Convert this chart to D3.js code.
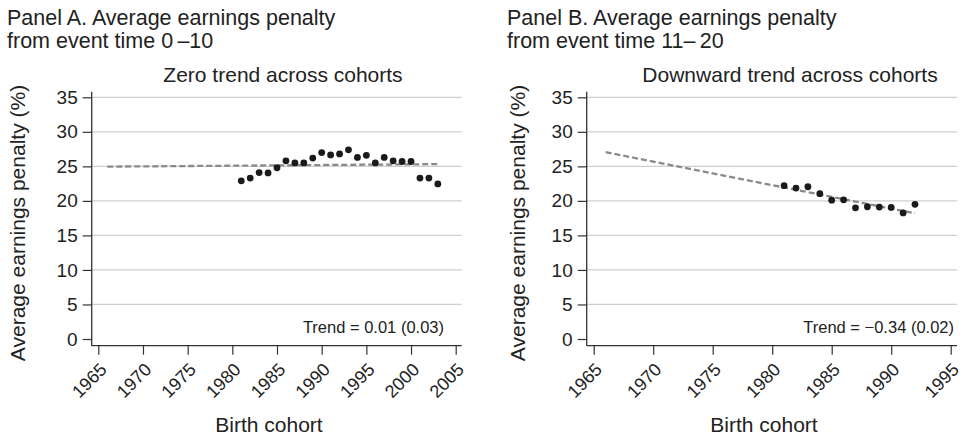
<!DOCTYPE html>
<html><head><meta charset="utf-8">
<script src="https://cdn.jsdelivr.net/npm/d3@7"></script>
<style>
body{margin:0;background:#fff;}
svg{display:block;font-family:"Liberation Sans",Arial,Helvetica,sans-serif;}
</style></head><body>
<svg id="c" width="961" height="437"></svg>
<script>
// ---- data ----
const cohortsA = [1981,1982,1983,1984,1985,1986,1987,1988,1989,1990,1991,1992,1993,1994,1995,1996,1997,1998,1999,2000,2001,2002,2003];
const penaltyA = [22.9,23.3,24.1,24.05,24.8,25.8,25.5,25.5,26.2,27.0,26.65,26.8,27.4,26.3,26.6,25.5,26.3,25.8,25.7,25.7,23.3,23.3,22.45];
const trendA = [[1966,24.96],[2003,25.32]];
const cohortsB = [1981,1982,1983,1984,1985,1986,1987,1988,1989,1990,1991,1992];
const penaltyB = [22.2,21.85,22.05,21.05,20.1,20.15,19.0,19.15,19.1,19.05,18.25,19.5];
const trendB = [[1966,27.05],[1992,18.2]];
const yTicks = [0,5,10,15,20,25,30,35];
const xTicksA = [1965,1970,1975,1980,1985,1990,1995,2000,2005];
const xTicksB = [1965,1970,1975,1980,1985,1990,1995];

const svg = d3.select("#c");
const FS = "Liberation Sans, Arial, sans-serif";
const INK = "#222";

function panel(cfg){
  const g = svg.append("g");
  const x = d3.scaleLinear().domain(cfg.xDomain).range(cfg.xRange);
  const y = d3.scaleLinear().domain([0,35]).range([339,97.3]);
  const axX = cfg.axisX, axY = 345.7;

  // header
  g.append("text").attr("x",cfg.headX).attr("y",25).attr("font-size",21.5).attr("fill",INK).text(cfg.head1);
  g.append("text").attr("x",cfg.headX).attr("y",47.5).attr("font-size",21.5).attr("fill",INK).text(cfg.head2);

  // subtitle
  g.append("text").attr("x",cfg.subX).attr("y",82).attr("text-anchor","middle")
    .attr("font-size",21).attr("fill",INK).text(cfg.sub);

  // gridlines
  g.selectAll(".grid").data(yTicks.filter(d=>d>0)).join("line")
    .attr("x1",axX).attr("x2",cfg.gridEnd).attr("y1",d=>y(d)).attr("y2",d=>y(d))
    .attr("stroke","#cfcfcf").attr("stroke-width",1.2);

  // y axis
  const yAxis = d3.axisLeft(y).tickValues(yTicks).tickSize(9).tickPadding(5);
  const gy = g.append("g").attr("transform",`translate(${axX},0)`).call(yAxis);
  gy.select(".domain").attr("d",`M0,${axY}V${y(35)-5.6}`).attr("stroke","#333").attr("stroke-width",1.3);
  gy.selectAll(".tick line").attr("stroke","#333").attr("stroke-width",1.2);
  gy.selectAll(".tick text").attr("font-size",19).attr("font-family",FS).attr("fill",INK);

  // x axis
  const xAxis = d3.axisBottom(x).tickValues(cfg.xTicks).tickSize(9).tickFormat(d3.format("d"));
  const gx = g.append("g").attr("transform",`translate(0,${axY})`).call(xAxis);
  gx.select(".domain").attr("d",`M${axX},0H${cfg.gridEnd}`).attr("stroke","#333").attr("stroke-width",1.3);
  gx.selectAll(".tick line").attr("stroke","#333").attr("stroke-width",1.2);
  gx.selectAll(".tick text").attr("font-size",18).attr("font-family",FS).attr("fill",INK)
    .attr("text-anchor","end").attr("dy",0).attr("y",0)
    .attr("transform","translate(9,25) rotate(-45)");

  // axis titles
  g.append("text").attr("transform",`translate(${cfg.yTitleX},223) rotate(-90)`)
    .attr("text-anchor","middle").attr("font-size",21).attr("fill",INK)
    .text("Average earnings penalty (%)");
  g.append("text").attr("x",cfg.xTitleX).attr("y",432).attr("text-anchor","middle")
    .attr("font-size",21).attr("fill",INK).text("Birth cohort");

  // trend line
  g.append("path").datum(cfg.trend)
    .attr("d",d3.line().x(d=>x(d[0])).y(d=>y(d[1])))
    .attr("fill","none").attr("stroke","#8a8a8a").attr("stroke-width",2.3)
    .attr("stroke-dasharray","6,3");

  // dots
  g.selectAll(".dot").data(cfg.xs.map((c,i)=>[c,cfg.ys[i]])).join("circle")
    .attr("cx",d=>x(d[0])).attr("cy",d=>y(d[1])).attr("r",3.4).attr("fill","#1a1a1a");

  // trend label
  g.append("text").attr("x",cfg.labelX).attr("y",333).attr("text-anchor","end")
    .attr("font-size",16.5).attr("fill",INK).attr("xml:space","preserve").text(cfg.label);
}

panel({xDomain:[1965,2005], xRange:[98.3,455.7], axisX:91.7, gridEnd:461.7,
  headX:7, head1:"Panel A. Average earnings penalty", head2:"from event time 0\u2009\u201310",
  subX:283, sub:"Zero trend across cohorts", yTitleX:25, xTitleX:269,
  xTicks:xTicksA, trend:trendA, xs:cohortsA, ys:penaltyA, labelX:444,
  label:"Trend = 0.01 (0.03)"});

panel({xDomain:[1965,1995], xRange:[593.7,950.7], axisX:586.7, gridEnd:957,
  headX:507, head1:"Panel B. Average earnings penalty", head2:"from event time 11\u2013\u200920",
  subX:790, sub:"Downward trend across cohorts", yTitleX:525, xTitleX:764,
  xTicks:xTicksB, trend:trendB, xs:cohortsB, ys:penaltyB, labelX:954,
  label:"Trend = \u22120.34 (0.02)"});
</script></body></html>
